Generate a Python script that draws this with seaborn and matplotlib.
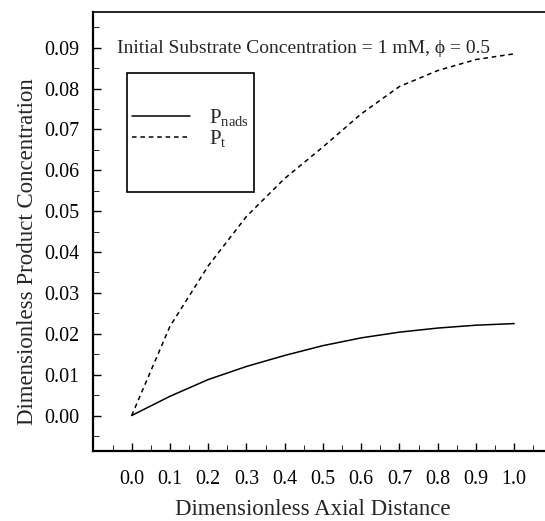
import numpy as np
import pandas as pd
import matplotlib
matplotlib.use("Agg")
import matplotlib.pyplot as plt
from matplotlib.patches import Rectangle
from matplotlib.ticker import MultipleLocator
import seaborn as sns

# values
axial_distance = [0.0, 0.1, 0.2, 0.3, 0.4, 0.5, 0.6, 0.7, 0.8, 0.9, 1.0]
p_nads = [0.0, 0.0047, 0.0088, 0.0120, 0.0147, 0.0171, 0.0190, 0.0204, 0.0214, 0.0221, 0.0225]
p_total = [0.0, 0.0218, 0.0366, 0.0487, 0.0580, 0.0657, 0.0738, 0.0805, 0.0844, 0.0871, 0.0885]
series_labels = [r"P$_{\mathrm{nads}}$", r"P$_{\mathrm{t}}$"]
x_ticks = [0.0, 0.1, 0.2, 0.3, 0.4, 0.5, 0.6, 0.7, 0.8, 0.9, 1.0]
y_ticks = [0.00, 0.01, 0.02, 0.03, 0.04, 0.05, 0.06, 0.07, 0.08, 0.09]

df = pd.DataFrame({
    "x": axial_distance * 2,
    "y": p_nads + p_total,
    "series": [series_labels[0]] * len(axial_distance) + [series_labels[1]] * len(axial_distance),
})

sns.set_style("ticks")
plt.rcParams["font.family"] = ["Liberation Serif", "DejaVu Serif"]
plt.rcParams["mathtext.fontset"] = "custom"
plt.rcParams["mathtext.rm"] = "Liberation Serif"
plt.rcParams["mathtext.it"] = "Liberation Serif:italic"

fig = plt.figure(figsize=(5.45, 5.21), dpi=100)
ax = fig.add_axes([0.1714, 0.1334, 0.8422, 0.8441])

sns.lineplot(
    data=df, x="x", y="y", style="series",
    dashes={series_labels[0]: "", series_labels[1]: (3, 2.5)},
    color="black", linewidth=1.1, ax=ax, legend=True,
)

ax.set_xlim(-0.1, 1.1)
ax.set_ylim(-0.0088, 0.0988)
ax.set_xticks(x_ticks)
ax.set_xticklabels([f"{v:.1f}" for v in x_ticks])
ax.set_yticks(y_ticks)
ax.set_yticklabels([f"{v:.2f}" for v in y_ticks])
ax.xaxis.set_minor_locator(MultipleLocator(0.05))
ax.yaxis.set_minor_locator(MultipleLocator(0.005))

ax.tick_params(which="major", direction="in", length=6, width=1.0, labelsize=14.4, colors="black")
ax.tick_params(which="minor", direction="in", length=4, width=0.7)
ax.tick_params(axis="x", which="major", pad=13)
ax.tick_params(axis="y", which="major", pad=10)

for side in ["left", "bottom"]:
    ax.spines[side].set_linewidth(1.6)
ax.spines["top"].set_linewidth(1.2)
ax.spines["right"].set_linewidth(1.2)
for s in ax.spines.values():
    s.set_color("black")

ax.set_xlabel("Dimensionless Axial Distance", fontsize=16.5)
ax.set_ylabel("Dimensionless Product Concentration", fontsize=16.5)
ax.xaxis.set_label_coords(0.478, -0.108)
ax.yaxis.set_label_coords(-0.121, 0.4536)

ax.text(0.0514, 0.9054, "Initial Substrate Concentration = 1 mM, \u03d5 = 0.5",
        transform=ax.transAxes, fontsize=14, va="baseline", ha="left")

# legend with its own square frame
handles, labels = ax.get_legend_handles_labels()
ax.legend(handles, labels, loc="center left", bbox_to_anchor=(0.0841, 0.735),
          frameon=False, fontsize=15, handlelength=2.8, handletextpad=0.9,
          labelspacing=0.0, borderpad=0, borderaxespad=0)
ax.add_patch(Rectangle((0.0725, 0.5907), 0.2773, 0.2693, transform=ax.transAxes,
                       fill=False, edgecolor="black", linewidth=1.2, clip_on=False))

fig.savefig("out.png", dpi=100)
